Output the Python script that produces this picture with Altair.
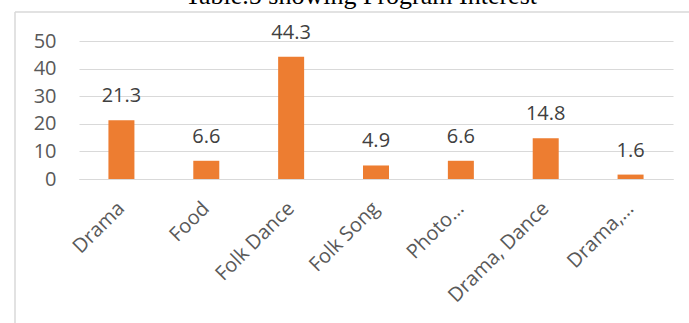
import altair as alt
import pandas as pd

# Program interest shares (percent)
programs = ["Drama", "Food", "Folk Dance", "Folk Song", "Photo…", "Drama, Dance", "Drama,…"]
shares = [21.3, 6.6, 44.3, 4.9, 6.6, 14.8, 1.6]
y_ticks = [0, 10, 20, 30, 40, 50]
chart_title = "Table.5 showing Program Interest"

df = pd.DataFrame({"program": programs, "share": shares})
one = pd.DataFrame({"k": [0]})

BAR = "#ED7D31"
GRID = "#d9d9d9"
FONT = "Open Sans"

x_enc = alt.X(
    "program:N",
    sort=programs,
    scale=alt.Scale(paddingInner=0.69, paddingOuter=0.345),
    axis=alt.Axis(
        title=None,
        labelAngle=-45,
        labelAlign="right",
        labelBaseline="middle",
        labelPadding=26,
        labelFont=FONT,
        labelFontSize=20,
        labelColor="#595959",
        labelOverlap=False,
        ticks=False,
        domainColor=GRID,
        domainWidth=1,
        grid=False,
        labelLimit=300,
    ),
)
y_enc = alt.Y(
    "share:Q",
    scale=alt.Scale(domain=[0, 50], nice=False),
    axis=alt.Axis(
        title=None,
        values=y_ticks,
        tickCount=6,
        labelFont=FONT,
        labelFontSize=20,
        labelColor="#595959",
        labelPadding=23,
        labelOverlap=False,
        labelFlush=False,
        ticks=False,
        domain=False,
        gridColor=GRID,
        gridWidth=1,
    ),
)

bars = alt.Chart(df).mark_bar(color=BAR, size=26).encode(x=x_enc, y=y_enc)

values = alt.Chart(df).mark_text(
    font=FONT, fontSize=20, color="#404040", baseline="alphabetic", dy=-18
).encode(x=x_enc, y=y_enc, text=alt.Text("share:Q", format=".1f"))

border_left = alt.Chart(one).mark_rule(color=GRID, strokeWidth=1.5).encode(
    x=alt.value(-64), y=alt.value(-29), y2=alt.value(300)
)
border_top = alt.Chart(one).mark_rule(color=GRID, strokeWidth=1.5).encode(
    x=alt.value(-64), x2=alt.value(640), y=alt.value(-29)
)

title = alt.Chart(one).mark_text(
    text=chart_title, font="Liberation Serif", fontSize=26, color="#000000",
    baseline="alphabetic", align="center",
).encode(x=alt.value(282), y=alt.value(-37))

chart = (
    alt.layer(bars, values, border_left, border_top, title)
    .properties(
        width=594,
        height=138,
        autosize=alt.AutoSizeParams(type="none"),
        padding={"left": 79, "top": 41, "right": 16, "bottom": 144},
        background="white",
    )
    .configure_view(stroke=None)
)

chart.save("out.html", embed_options={"renderer": "svg", "actions": False})
